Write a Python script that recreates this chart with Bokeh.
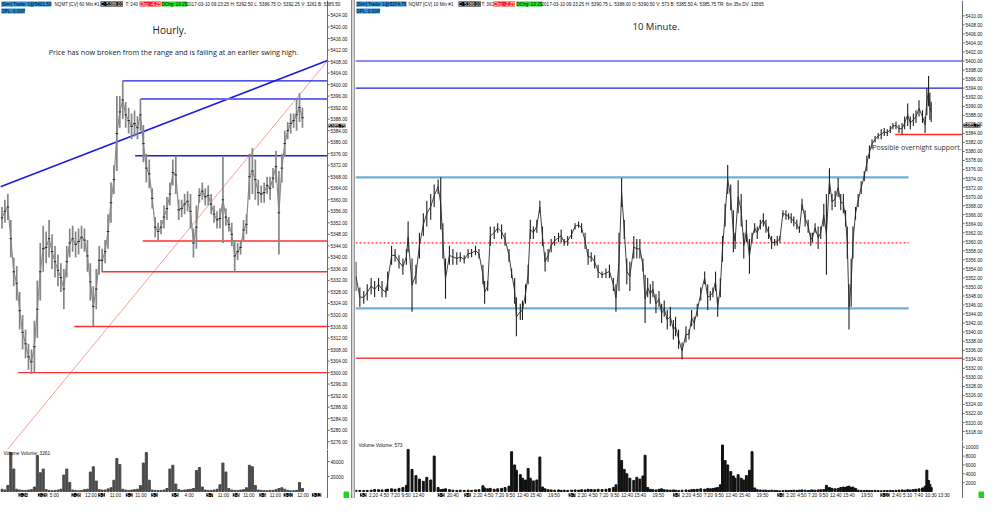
from bokeh.plotting import figure
from bokeh.layouts import row, column
from bokeh.models import Range1d, Label, Spacer, Span
from bokeh.embed import file_html
from bokeh.resources import INLINE
from bokeh.core.properties import value

# ---------------- LEFT PANEL (60 Min) : bar index data ----------------
left_high = [5357.5, 5360, 5362, 5353, 5340, 5337, 5328, 5320, 5315, 5310,
             5308, 5318, 5332, 5345, 5351, 5349, 5353, 5348, 5344, 5341,
             5338, 5336, 5344, 5350, 5351, 5349, 5350, 5351, 5350, 5346,
             5338, 5330, 5336, 5344, 5343, 5346, 5355, 5366, 5372, 5396,
             5396, 5401.3, 5394, 5392, 5390, 5391, 5389, 5395, 5386, 5376,
             5374, 5364, 5354, 5352, 5353, 5358, 5361, 5366, 5374, 5375.3,
             5360, 5360, 5362, 5363, 5362, 5350, 5358, 5364, 5366, 5364,
             5365, 5362, 5358, 5356, 5357, 5375, 5357, 5354, 5352, 5346,
             5345, 5346, 5353, 5355, 5376, 5378, 5374, 5367, 5365, 5366,
             5368, 5368, 5371, 5377, 5370, 5376, 5384, 5387, 5390, 5390,
             5395, 5397, 5392]
left_low = [5350, 5352, 5353, 5340, 5330, 5325, 5315, 5308, 5305, 5301,
            5299.5, 5300, 5312, 5325, 5335, 5338, 5340, 5336, 5333, 5330,
            5328, 5322, 5333, 5340, 5342, 5340, 5341, 5343, 5342, 5335,
            5325, 5316, 5322, 5334, 5335, 5338, 5343, 5352, 5362, 5370,
            5385, 5388, 5385, 5383, 5381, 5382, 5381, 5384, 5373, 5366,
            5364, 5357, 5347, 5346, 5348, 5350, 5353, 5358, 5365, 5362,
            5353, 5354, 5355, 5356, 5350, 5340, 5343, 5359, 5360, 5358,
            5358, 5355, 5352, 5350, 5350, 5345, 5351, 5349, 5344, 5335,
            5339, 5341, 5346, 5348, 5360, 5362, 5360, 5358, 5359, 5359,
            5362, 5360, 5364, 5366, 5341, 5366, 5375, 5381, 5383, 5385,
            5384, 5387, 5385]
left_volume = [3000, 2000, 8000, 52000, 30000, 3000, 2000, 1500, 1500, 2000,
               2500, 6000, 48000, 25000, 30000, 2500, 1500, 1000, 1500, 2000,
               3000, 22000, 30000, 12000, 2000, 1500, 1000, 1500, 2500, 3000,
               26000, 33000, 14000, 2500, 2000, 2000, 3500, 5000, 15000, 44000,
               36000, 3000, 2000, 1500, 2000, 2500, 3000, 8000, 38000, 52000,
               15000, 2000, 1500, 1200, 1500, 2000, 4000, 30000, 35000, 10000,
               2500, 1500, 2000, 2500, 3000, 4000, 28000, 32000, 6000, 2000,
               1500, 1500, 2000, 3000, 9000, 38000, 26000, 4000, 2000, 1500,
               1500, 2000, 2500, 5000, 35000, 33000, 8000, 2000, 1500, 1200,
               1000, 1500, 1500, 2500, 4000, 5000, 3000, 1500, 1000, 1000,
               1500, 12000, 4000]
left_price_ticks = [5276, 5280, 5284, 5288, 5292, 5296, 5300, 5304, 5308, 5312,
                    5316, 5320, 5324, 5328, 5332, 5336, 5340, 5344, 5348, 5352,
                    5356, 5360, 5364, 5368, 5372, 5376, 5380, 5384, 5388, 5392,
                    5396, 5400, 5404, 5408, 5412, 5416, 5420, 5424]
left_volume_ticks = [20000, 40000]
left_time_ticks = [17.8, 30.2, 38.5, 47.2, 63.5, 75.2, 83.8, 92.8, 102.2]
left_time_labels = ["5:00", "12:00", "11:00", "11:00", "4:00", "11:00", "11:00", "11:00", "12:00"]
left_date_pos = [7.2, 13.8, 25.2, 33.8, 43.2, 51.8, 58.8, 70.5, 79.5, 88.5, 97.2, 106.8]
left_date_labels = ["2-24", "2-26", "2-28", "3-1", "3-2", "3-3", "3-5", "3-7", "3-8", "3-9", "3-10", "3-12"]
left_level_price = [5401.3, 5395.0, 5375.3, 5345.7, 5335.0, 5316.0, 5300.0]
left_level_start = [41, 47, 45.2, 47.8, 33.8, 24.5, 5.5]
left_level_color = ["#1c1ce0", "#6a6af2", "#1c1ce0", "#ff3030", "#ff3030", "#ff3030", "#ff3030"]
left_level_width = [1.4, 2.2, 1.4, 1.4, 1.4, 1.4, 1.4]
left_trend_x = [-0.5, 110.5]
left_trend_y = [5364.5, 5408.4]
left_diag_x = [1.2, 110.5]
left_diag_y = [5272.5, 5408.3]

# ---------------- RIGHT PANEL (10 Min) : trading hours from 3-3 00:00 ----------------
right_hours = [-1.7, -0.8, 0.1, 0.9, 1.8, 2.6, 3.5, 4.3, 5.2, 5.6,
               6.5, 7.3, 8.2, 9.1, 9.9, 10.3, 11.2, 12.1, 12.9, 13.8,
               14.6, 15.5, 16.3, 17.2, 17.8, 18.3, 18.9, 19.8, 20.6, 21.5,
               22.3, 23.2, 24.1, 24.9, 25.8, 26.6, 27.5, 27.9, 28.6, 29.2,
               30.1, 30.9, 31.8, 32.6, 33.5, 34.1, 34.8, 35.2, 36.1, 36.6,
               37.3, 37.9, 38.4, 39.1, 39.9, 40.6, 41.2, 41.8, 42.5, 43.2,
               44.0, 44.9, 45.5, 46.2, 47.0, 47.9, 48.7, 49.5, 50.2, 51.0,
               51.7, 52.4, 53.2, 54.0, 54.9, 55.8, 56.6, 57.5, 58.1, 58.8,
               59.4, 60.0, 60.6, 61.3, 62.2, 62.9, 63.6, 64.3, 64.8, 65.4,
               66.0, 66.6, 67.3, 68.0, 68.6, 69.2, 69.9, 70.6, 71.3, 71.8,
               72.5, 73.3, 74.2, 74.9, 75.5, 76.1, 76.8, 77.6, 78.5, 79.2,
               79.8, 80.4, 81.0, 81.5, 82.1, 82.6, 83.2, 83.8, 84.5, 85.1,
               85.5, 86.2, 86.9, 87.5, 88.1, 88.8, 89.4, 90.0, 90.6, 91.3,
               92.0, 92.6, 93.2, 93.9, 94.6, 95.2, 95.8, 96.5, 97.2, 97.8,
               98.4, 99.0, 99.7, 100.3, 100.9, 101.6, 102.3, 102.9, 103.3, 103.9,
               104.6, 105.2, 105.9, 106.5, 107.2, 107.8, 108.5, 109.2, 109.8, 110.4,
               110.9, 111.3, 111.7, 112.2, 112.6, 113.2, 113.8, 114.5, 115.2, 115.8,
               116.4, 117.0, 117.7, 118.4, 119.1, 119.8, 120.5, 121.2, 121.8, 122.5,
               123.2, 123.9, 124.5, 125.2, 125.8, 126.5, 127.1, 127.8, 128.6, 129.2,
               129.6, 130.0, 130.3, 130.6]
right_high = [5355.6, 5349.9, 5349.1, 5350.6, 5352.0, 5351.3, 5352.0, 5351.3, 5349.9, 5353.4,
              5359.1, 5358.4, 5357.0, 5356.3, 5358.4, 5364.5, 5356.3, 5354.9, 5362.0, 5366.3,
              5369.1, 5370.6, 5372.7, 5373.8, 5374.3, 5364.1, 5356.3, 5359.1, 5358.4, 5357.7,
              5357.7, 5357.0, 5358.4, 5358.4, 5359.1, 5358.4, 5354.9, 5351.3, 5351.3, 5363.4,
              5363.4, 5364.1, 5363.8, 5362.0, 5358.4, 5354.1, 5352.0, 5347.7, 5346.3, 5347.0,
              5350.6, 5354.9, 5364.9, 5363.4, 5364.9, 5369.1, 5363.4, 5357.7, 5358.4, 5360.6,
              5361.3, 5362.0, 5362.7, 5360.6, 5361.3, 5362.7, 5364.1, 5364.5, 5364.1, 5362.0,
              5358.4, 5357.7, 5357.0, 5354.9, 5353.4, 5354.1, 5354.9, 5352.0, 5350.6, 5362.0,
              5374.1, 5364.9, 5356.3, 5355.6, 5361.3, 5360.6, 5360.6, 5356.3, 5352.7, 5352.0,
              5350.6, 5351.3, 5348.4, 5349.1, 5346.3, 5347.0, 5344.9, 5345.6, 5342.7, 5343.4,
              5340.6, 5337.7, 5341.3, 5340.6, 5344.9, 5343.4, 5346.3, 5349.9, 5353.4, 5350.6,
              5349.1, 5349.9, 5353.4, 5347.7, 5352.0, 5361.3, 5368.4, 5377.0, 5372.7, 5367.0,
              5362.0, 5373.6, 5370.6, 5362.0, 5364.9, 5360.6, 5362.0, 5364.1, 5363.4, 5364.9,
              5366.3, 5364.9, 5363.4, 5361.3, 5360.6, 5361.3, 5361.3, 5367.0, 5367.0, 5366.3,
              5366.3, 5365.6, 5364.9, 5363.4, 5369.5, 5367.0, 5364.9, 5362.0, 5362.0, 5364.1,
              5363.4, 5363.4, 5368.4, 5370.6, 5376.3, 5370.6, 5371.3, 5374.1, 5370.6, 5370.6,
              5367.0, 5363.4, 5350.6, 5356.3, 5363.4, 5367.7, 5370.6, 5373.4, 5375.6, 5379.1,
              5381.3, 5382.7, 5383.4, 5384.1, 5384.9, 5385.2, 5384.9, 5385.6, 5386.3, 5386.6,
              5385.9, 5386.3, 5387.7, 5390.6, 5387.7, 5388.4, 5389.1, 5391.3, 5389.1, 5387.7,
              5394.0, 5396.7, 5393.0, 5391.0]
right_low = [5349.1, 5345.6, 5346.3, 5347.0, 5348.4, 5347.7, 5349.1, 5347.7, 5347.7, 5349.1,
             5354.9, 5355.6, 5354.1, 5352.7, 5354.9, 5357.7, 5344.5, 5350.6, 5356.3, 5361.3,
             5363.4, 5364.9, 5367.7, 5370.6, 5362.7, 5356.3, 5347.4, 5354.9, 5354.9, 5354.9,
             5355.6, 5355.2, 5356.3, 5356.6, 5357.0, 5356.3, 5350.6, 5346.3, 5349.1, 5359.1,
             5360.6, 5362.0, 5360.6, 5359.1, 5355.6, 5352.0, 5346.3, 5339.1, 5342.7, 5342.7,
             5346.3, 5350.6, 5360.6, 5360.6, 5362.0, 5366.3, 5359.1, 5353.4, 5355.6, 5357.7,
             5359.1, 5359.9, 5359.9, 5359.1, 5359.1, 5360.6, 5362.7, 5363.1, 5362.0, 5358.4,
             5354.9, 5355.6, 5354.1, 5352.0, 5352.0, 5352.0, 5352.0, 5349.1, 5344.5, 5349.1,
             5367.7, 5360.6, 5350.6, 5349.1, 5356.3, 5356.3, 5356.3, 5353.4, 5342.0, 5347.7,
             5346.3, 5347.7, 5344.2, 5345.6, 5342.0, 5343.4, 5340.6, 5341.3, 5338.4, 5339.1,
             5336.3, 5334.0, 5337.7, 5338.4, 5341.3, 5340.6, 5343.4, 5347.0, 5350.6, 5344.9,
             5347.0, 5347.7, 5349.1, 5343.4, 5347.7, 5355.6, 5363.4, 5370.6, 5367.0, 5357.7,
             5358.4, 5366.3, 5363.4, 5356.3, 5359.9, 5352.9, 5359.9, 5362.0, 5360.6, 5362.7,
             5363.4, 5362.0, 5360.6, 5358.4, 5359.1, 5359.1, 5359.9, 5365.6, 5364.9, 5364.9,
             5364.1, 5363.4, 5362.7, 5362.0, 5367.0, 5363.4, 5362.0, 5359.1, 5359.9, 5362.0,
             5358.4, 5360.6, 5363.4, 5352.7, 5370.6, 5367.0, 5367.7, 5369.9, 5367.0, 5366.3,
             5363.4, 5356.3, 5340.6, 5345.6, 5356.3, 5364.9, 5367.7, 5370.6, 5373.4, 5375.6,
             5378.4, 5380.6, 5382.0, 5382.7, 5382.7, 5383.4, 5383.4, 5384.1, 5384.9, 5384.9,
             5384.1, 5383.8, 5384.9, 5385.6, 5384.9, 5385.6, 5386.3, 5387.7, 5386.3, 5384.1,
             5388.0, 5390.0, 5387.0, 5386.5]
right_volume = [300, 250, 200, 250, 300, 450, 400, 350, 400, 500,
                600, 500, 700, 900, 1400, 9500, 5000, 3600, 2800, 2300,
                3200, 2600, 8000, 900, 400, 500, 600, 400, 300, 250,
                300, 250, 300, 250, 350, 400, 1300, 800, 600, 700,
                500, 600, 700, 900, 1200, 9000, 6000, 4800, 3800, 3000,
                2600, 5200, 3000, 2400, 2600, 7800, 1000, 600, 400, 350,
                300, 350, 250, 300, 250, 300, 350, 300, 400, 350,
                500, 450, 400, 500, 450, 500, 650, 900, 1500, 9500,
                7000, 5000, 4000, 3000, 2500, 3200, 2800, 3500, 8200, 900,
                500, 400, 350, 500, 600, 400, 350, 300, 350, 300,
                250, 300, 350, 300, 400, 450, 500, 600, 500, 700,
                600, 700, 800, 900, 1500, 10500, 7000, 6000, 4500, 3500,
                3000, 3800, 3000, 2600, 3600, 4800, 9000, 800, 400, 350,
                300, 300, 250, 300, 250, 200, 150, 200, 250, 200,
                250, 300, 250, 300, 350, 300, 250, 300, 350, 300,
                350, 400, 450, 1400, 900, 700, 600, 700, 900, 1000,
                900, 1100, 1200, 900, 1000, 700, 300, 250, 200, 250,
                200, 200, 250, 200, 150, 200, 200, 250, 200, 250,
                300, 350, 300, 400, 350, 450, 500, 600, 800, 1200,
                4800, 2500, 1600, 900]
right_price_ticks = [5318, 5320, 5322, 5324, 5326, 5328, 5330, 5332, 5334, 5336,
                     5338, 5340, 5342, 5344, 5346, 5348, 5350, 5352, 5354, 5356,
                     5358, 5360, 5362, 5364, 5366, 5368, 5370, 5372, 5374, 5376,
                     5378, 5380, 5382, 5384, 5386, 5388, 5390, 5392, 5394, 5396,
                     5398, 5400, 5402, 5404, 5406, 5408, 5410]
right_volume_ticks = [2000, 4000, 6000, 8000, 10000]
right_time_ticks = [2.33, 4.83, 7.33, 9.83, 12.67, 20.57,
                    26.33, 28.83, 31.33, 33.83, 36.67, 39.67, 43.83,
                    50.33, 52.83, 55.33, 57.83, 60.67, 63.67, 67.83,
                    74.33, 76.83, 79.33, 81.83, 84.67, 87.67, 91.83,
                    98.33, 100.83, 103.33, 105.83, 108.67, 111.67, 115.83,
                    122.67, 125.17, 127.67, 130.5, 133.5]
right_time_labels = ["2:20", "4:50", "7:20", "9:50", "12:40", "20:40",
                     "2:20", "4:50", "7:20", "9:50", "12:40", "15:40", "19:50",
                     "2:20", "4:50", "7:20", "9:50", "12:40", "15:40", "19:50",
                     "2:20", "4:50", "7:20", "9:50", "12:40", "15:40", "19:50",
                     "2:20", "4:50", "7:20", "9:50", "12:40", "15:40", "19:50",
                     "2:40", "5:10", "7:40", "10:30", "13:30"]
right_date_pos = [0, 17.9, 24.0, 48.0, 72.0, 96.0, 120.0]
right_date_labels = ["3-3", "3-5", "3-6", "3-7", "3-8", "3-9", "3-10"]
right_level_price = [5400.0, 5394.0, 5374.25, 5345.25, 5334.25, 5383.75]
right_level_start = [-1.8, -1.8, -1.8, -1.8, -1.8, 122.3]
right_level_end = [137.8, 137.8, 125.4, 125.4, 137.8, 137.8]
right_level_color = ["#1e1ee6", "#1e1ee6", "#6eaed6", "#6eaed6", "#ee4444", "#ff2a2a"]
right_level_width = [1.1, 1.1, 2.2, 2.2, 1.5, 1.5]
right_mid_price = 5359.75
last_price = 5385.75

# ---------------- layout constants (pixels) ----------------
LW, SW = 349, 6
RW = 984 - LW - SW
AXW = 22                      # room for the value labels right of each axis line
LFW, RFW = LW - AXW, RW - AXW  # width of the data area in each panel
LPH, RPH = 449, 441           # price panes
LVH, RVH = 42, 50             # volume panes (bars)
TB = 7                        # time-label band under the volume bars
AXF = "Liberation Sans"
TXF = "Open Sans"
AXC = "#6a6a6a"

LX0, LX1 = -0.5, 110.5
RX0, RX1 = -1.8, 137.8
lpx = LFW / (LX1 - LX0)
rpx = RFW / (RX1 - RX0)
lxr = Range1d(LX0, LX1 + AXW / lpx)
rxr = Range1d(RX0, RX1 + AXW / rpx)
LVMAX, RVMAX = 56000, 11300


def make_fig(w, h, xr, yr):
    p = figure(width=w, height=h, x_range=xr, y_range=yr, output_backend="svg",
               toolbar_location=None, x_axis_location=None, y_axis_location=None, min_border=0)
    p.grid.visible = False
    p.outline_line_color = None
    p.border_fill_color = "white"
    return p


def value_axis(p, xaxis, pxper, ticks, labels):
    p.add_layout(Span(location=xaxis, dimension="height", line_color=AXC, line_width=1))
    p.segment(x0=[xaxis] * len(ticks), y0=ticks, x1=[xaxis + 2.2 / pxper] * len(ticks), y1=ticks,
              line_color=AXC, line_width=1)
    p.text(x=[xaxis] * len(ticks), y=ticks, text=labels, x_offset=3, text_baseline="middle",
           text_font=value(AXF), text_font_size=value("4.7px"), text_color="#111111")


def header(p, ph, items):
    for txt, x, bg, fg, dy in items:
        p.add_layout(Label(x=x, y=ph - 1 - dy, x_units="screen", y_units="screen", text=txt,
                           text_font=AXF, text_font_size="4.6px", text_color=fg,
                           text_baseline="top", background_fill_color=bg))


def time_band(p, ymid, ticks, labels, dpos, dlabels):
    p.text(x=ticks, y=[ymid] * len(ticks), text=labels, text_align="center", text_baseline="middle",
           text_font=value(AXF), text_font_size=value("4.7px"), text_color="#111111")
    for x, t in zip(dpos, dlabels):
        p.add_layout(Label(x=x, y=ymid, text=t, text_align="center", text_baseline="middle",
                           text_font=AXF, text_font_size="4.7px", text_color="white",
                           background_fill_color="black"))


# ---------------- left price ----------------
lidx = list(range(len(left_high)))
lp = make_fig(LW, LPH, lxr, Range1d(5273.3, 5429.2))
lp.line(left_diag_x, left_diag_y, color="#ff8c8c", line_width=0.9)
lp.line(left_trend_x, left_trend_y, color="#1c1ce0", line_width=1.6)
lp.segment(x0=left_level_start, y0=left_level_price, x1=[LX1] * len(left_level_price),
           y1=left_level_price, color=left_level_color, line_width=left_level_width)
left_mid = [(h + l) / 2 for h, l in zip(left_high, left_low)]
lp.line(lidx, left_mid, color="#8c8c8c", line_width=1.2)
lp.segment(x0=lidx, y0=left_low, x1=lidx, y1=left_high, color="#868686", line_width=1.7)
lp.scatter(lidx, left_mid, marker="dash", size=2.5, color="#222222", line_width=1)
value_axis(lp, LX1, lpx, left_price_ticks, [f"{t:.2f}" for t in left_price_ticks])
lp.add_layout(Label(x=LX1, y=last_price, x_offset=1, text=f"{last_price:.2f}", text_baseline="middle",
                    text_font=AXF, text_font_size="4.7px", text_color="white", background_fill_color="black"))
header(lp, LPH, [("[Sim] Trade: 1@5401.50", 1, "#2b8fd4", "#0a0a0a", 0),
                 ("NQM7 [CV] 60 Min  #1", 54, None, "#111111", 0),
                 ("C: 5388.00", 100, "black", "white", 0),
                 ("T: 240", 125, None, "#111111", 0),
                 ("Chg: -4.25", 139, "#ff1a1a", "white", 0),
                 ("DChg: 13.25", 161, "#22dd22", "#111111", 0),
                 ("2017-03-10 09:23:25 H: 5392.50 L: 5386.75 O: 5392.25 V: 3261 B: 5385.50", 186, None, "#111111", 0),
                 ("DPL: 0.00P", 1, "#2b8fd4", "#0a0a0a", 7)])
lp.add_layout(Label(x=169, y=LPH - 29, x_units="screen", y_units="screen", text="Hourly.",
                    text_align="center", text_baseline="middle", text_font=TXF,
                    text_font_size="10px", text_color="#222222"))
lp.add_layout(Label(x=173, y=LPH - 51, x_units="screen", y_units="screen",
                    text="Price has now broken from the range and is failing at an earlier swing high.",
                    text_align="center", text_baseline="middle", text_font=TXF,
                    text_font_size="7.2px", text_color="#222222"))

# ---------------- left volume + time band ----------------
lband = LVMAX * TB / LVH
lv = make_fig(LW, LVH + TB, lxr, Range1d(-lband, LVMAX))
lv.vbar(x=lidx, top=left_volume, width=0.7, color="#4a4a4a")
value_axis(lv, LX1, lpx, left_volume_ticks, [str(t) for t in left_volume_ticks])
lv.add_layout(Label(x=LX0, y=LVMAX, x_offset=3, y_offset=-1, text="Volume   Volume: 3261",
                    text_baseline="top", text_font=AXF, text_font_size="4.8px", text_color="#111111"))
time_band(lv, -lband * 0.5, left_time_ticks, left_time_labels, left_date_pos, left_date_labels)
lv.rect(x=[LX1 + (AXW - 3) / lpx], y=[-lband * 0.5], width=5, height=6, width_units="screen",
        height_units="screen", color="#1ed41e")

# ---------------- right price ----------------
rp = make_fig(RW, RPH, rxr, Range1d(5315.8, 5413.4))
rp.segment(x0=right_level_start, y0=right_level_price, x1=right_level_end, y1=right_level_price,
           color=right_level_color, line_width=right_level_width)
rp.line([RX0, 125.4], [right_mid_price, right_mid_price], color="#ff2020",
        line_width=1.1, line_dash="2 2")
right_mid = [(h + l) / 2 for h, l in zip(right_high, right_low)]
rp.segment(x0=right_hours, y0=right_low, x1=right_hours, y1=right_high, color="#1e1e1e", line_width=1.1)
rp.line(right_hours, right_mid, color="#2a2a2a", line_width=0.9)
value_axis(rp, RX1, rpx, right_price_ticks, [f"{t:.2f}" for t in right_price_ticks])
rp.add_layout(Label(x=RX1, y=last_price, x_offset=1, text=f"{last_price:.2f}", text_baseline="middle",
                    text_font=AXF, text_font_size="4.7px", text_color="white", background_fill_color="black"))
rp.add_layout(Label(x=RX1, y=5380.8, x_offset=-1, text="Possible overnight support.",
                    text_align="right", text_baseline="middle", text_font=TXF,
                    text_font_size="7px", text_color="#333333"))
rp.add_layout(Label(x=277, y=RPH - 26, x_units="screen", y_units="screen", text="10 Minute.",
                    text_baseline="middle", text_font=TXF, text_font_size="9.5px", text_color="#222222"))
header(rp, RPH, [("[Sim] Trade: 1@5374.75", 1, "#2b8fd4", "#0a0a0a", 0),
                 ("NQM7 [CV] 10 Min  #1", 53, None, "#111111", 0),
                 ("C: 5388.00", 103, "black", "white", 0),
                 ("T: 363", 126, None, "#111111", 0),
                 ("Chg: -2.25", 138, "#ff1a1a", "white", 0),
                 ("DChg: 13.25", 161, "#22dd22", "#111111", 0),
                 ("2017-03-10 09:23:25 H: 5390.75 L: 5388.00 O: 5390.50 V: 573 B: 5385.50 A: 5385.75 TR: 6m 35s DV: 13565",
                  186, None, "#111111", 0),
                 ("DPL: 0.00P", 1, "#2b8fd4", "#0a0a0a", 7)])

# ---------------- right volume + time band ----------------
rband = RVMAX * TB / RVH
rv = make_fig(RW, RVH + TB, rxr, Range1d(-rband, RVMAX))
rv.vbar(x=right_hours, top=right_volume, width=0.45, color="#111111")
value_axis(rv, RX1, rpx, right_volume_ticks, [str(t) for t in right_volume_ticks])
rv.add_layout(Label(x=RX0, y=RVMAX, x_offset=3, y_offset=-1, text="Volume   Volume: 573",
                    text_baseline="top", text_font=AXF, text_font_size="4.8px", text_color="#111111"))
time_band(rv, -rband * 0.5, right_time_ticks, right_time_labels, right_date_pos, right_date_labels)
rv.rect(x=[RX1 + (AXW - 3) / rpx], y=[-rband * 0.5], width=5, height=6, width_units="screen",
        height_units="screen", color="#1ed41e")

sep = Spacer(width=SW, height=LPH + LVH + TB,
             styles={"background": "linear-gradient(to right, #ffffff 0px, #ffffff 2px, #8a8a8a 2px, #8a8a8a 3px, #d6d6d6 3px, #d6d6d6 5px, #9a9a9a 5px)"})

layout = row(column(lp, lv), sep, column(rp, rv))
open("out.html", "w").write(file_html(layout, INLINE))
